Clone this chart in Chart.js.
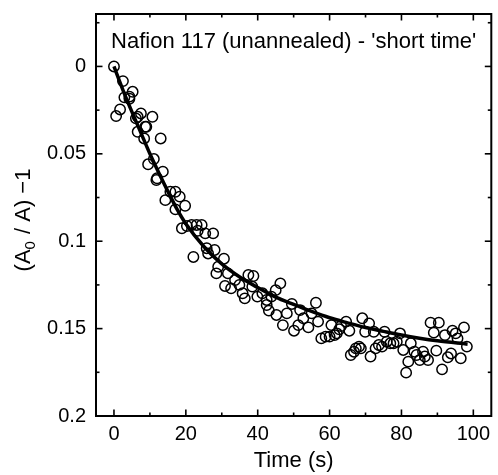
<!DOCTYPE html>
<html>
<head>
<meta charset="utf-8">
<script src="https://cdn.jsdelivr.net/npm/chart.js@4/dist/chart.umd.min.js"></script>
<style>
html,body{margin:0;padding:0;background:#fff;}
#wrap{width:498px;height:475px;}
</style>
</head>
<body>
<div id="wrap"><canvas id="c" width="498" height="475"></canvas></div>
<script>
const chartTitle = "Nafion 117 (unannealed) - 'short time'";
const xAxisTitle = "Time (s)";
// y-axis title pieces: "(A", subscript "0", " / A) −1"
const yAxisTitleParts = ["(A", "0", " / A) \u22121"];
const xTickValues = [0, 20, 40, 60, 80, 100];
const yTickValues = [0, 0.05, 0.1, 0.15, 0.2];

const timeData = [0, 2.5, 0.6, 1.7, 2.9, 4.3, 5.2, 6.6, 7.5, 6.6, 8.7, 10.7, 8.4, 13, 11.1, 9.5, 13.6, 11.8, 14.3, 15.7,
  17.1, 18.3, 17.1, 19.8, 18.9, 20.3, 21.6, 23, 24.4, 23.3, 25.4, 27.6, 25.8, 28, 26.2, 22.1, 30.6, 29, 28.5, 31.7,
  30.9, 32.6, 33.7, 34.9, 35.8, 36.4, 37.4, 38.8, 38.5, 39.9, 41.3, 42.5, 43.8, 42.5, 43.1, 45, 46.3, 45.2, 47, 48.1,
  49.5, 50.1, 51.3, 51.8, 52.7, 54.1, 55, 56.2, 56.8, 57.7, 58.9, 60, 60.5, 61.4, 62, 62.7, 63.2, 64.6, 65.5, 65.9,
  66.8, 67.3, 68.2, 68.7, 69.1, 69.9, 71, 71.4, 72.3, 72.8, 73.7, 74.6, 75.3, 75.9, 76.9, 77.8, 78.7, 79.6, 80.5, 81.3,
  81.9, 82.6, 83.6, 84.2, 85.1, 86, 86.5, 87.4, 88.1, 89, 90.4, 89.7, 91.3, 92.1, 92.9, 93.8, 94.2, 95.1, 95.6, 96.5,
  97.4, 98.2, 6.1, 9.0, 4.3, 12.0];
const signalData = [0, 0.0084, 0.0284, 0.0246, 0.0177, 0.0173, 0.0145, 0.0288, 0.0269, 0.0374, 0.0345, 0.0288, 0.0412, 0.0412, 0.053, 0.056, 0.0602, 0.065, 0.0765, 0.0717,
  0.0717, 0.0745, 0.0818, 0.0797, 0.0926, 0.0913, 0.0907, 0.0907, 0.0907, 0.094, 0.0955, 0.0955, 0.104, 0.105, 0.107, 0.109, 0.110, 0.1146, 0.1184, 0.1184,
  0.1256, 0.127, 0.1222, 0.125, 0.1298, 0.1327, 0.1193, 0.1199, 0.126, 0.1317, 0.1298, 0.1336, 0.1317, 0.1365, 0.1397, 0.128, 0.1241, 0.1422, 0.148, 0.1413,
  0.1359, 0.1512, 0.148, 0.1394, 0.1441, 0.1493, 0.1413, 0.1352, 0.146, 0.1556, 0.1546, 0.1546, 0.148, 0.1537, 0.1527, 0.1504, 0.1485, 0.146, 0.1512, 0.1651,
  0.1632, 0.1613, 0.1603, 0.1613, 0.1441, 0.1518, 0.147, 0.166, 0.1518, 0.1613, 0.1594, 0.1603, 0.1518, 0.1575, 0.1584, 0.1584, 0.1575, 0.1527, 0.1622, 0.1752,
  0.1689, 0.1584, 0.1632, 0.1651, 0.168, 0.1632, 0.166, 0.168, 0.1466, 0.1523, 0.1466, 0.1626, 0.1733, 0.1537, 0.1664, 0.1642, 0.1512, 0.1527, 0.1556, 0.167,
  0.1493, 0.1603, 0.0297, 0.0345, 0.0185, 0.064];

const fitTime = [0, 2.5, 5, 7.5, 10, 12.5, 15, 17.5, 20, 25, 30, 35, 40, 45, 50, 55, 60, 65, 70, 75, 80, 85, 90, 98.4];
const fitValue = [0, 0.0135, 0.026, 0.038, 0.0500, 0.0610, 0.0715, 0.0815, 0.0900, 0.1030, 0.1130, 0.1205, 0.1265, 0.1320, 0.1362, 0.1402, 0.1438, 0.1467, 0.1494, 0.1516, 0.1537, 0.1555, 0.1570, 0.1589];

const FONT = "'Liberation Sans', Arial, Helvetica, sans-serif";

const framePlugin = {
  id: 'frame',
  afterDatasetsDraw(chart) {
    const {ctx, chartArea: a, scales} = chart;
    const xs = scales.x, ys = scales.y;
    ctx.save();
    ctx.strokeStyle = '#000';
    ctx.lineWidth = 1.6;
    const tick = (x1, y1, x2, y2) => { ctx.beginPath(); ctx.moveTo(x1, y1); ctx.lineTo(x2, y2); ctx.stroke(); };
    for (let v = 0; v <= 100; v += 10) {
      const px = xs.getPixelForValue(v);
      const len = (v % 20 === 0) ? 6.5 : 3.5;
      tick(px, a.bottom, px, a.bottom - len);
      tick(px, a.top, px, a.top + len);
    }
    for (let k = -1; k <= 8; k++) {
      const v = k * 0.025;
      const py = ys.getPixelForValue(v);
      if (py < a.top + 1 || py > a.bottom - 1) continue;
      const len = (k % 2 === 0) ? 6.5 : 3.5;
      tick(a.left, py, a.left + len, py);
      tick(a.right, py, a.right - len, py);
    }
    ctx.lineWidth = 2;
    ctx.strokeRect(a.left, a.top, a.right - a.left, a.bottom - a.top);
    ctx.fillStyle = '#000';
    ctx.font = '22px ' + FONT;
    ctx.textAlign = 'center';
    ctx.textBaseline = 'middle';
    ctx.fillText(chartTitle, (a.left + a.right) / 2, a.top + 28);

    // y-axis title with a true subscript
    const mainFont = '22px ' + FONT, subFont = '15px ' + FONT;
    ctx.font = mainFont; const w0 = ctx.measureText(yAxisTitleParts[0]).width;
    ctx.font = subFont;  const w1 = ctx.measureText(yAxisTitleParts[1]).width;
    ctx.font = mainFont; const w2 = ctx.measureText(yAxisTitleParts[2]).width;
    const total = w0 + w1 + w2 + 1;
    ctx.translate(30, (a.top + a.bottom) / 2 + 5);
    ctx.rotate(-Math.PI / 2);
    ctx.textAlign = 'left';
    ctx.textBaseline = 'alphabetic';
    let cx = -total / 2;
    ctx.font = mainFont; ctx.fillText(yAxisTitleParts[0], cx, 0); cx += w0;
    ctx.font = subFont;  ctx.fillText(yAxisTitleParts[1], cx, 5); cx += w1 + 1;
    ctx.font = mainFont; ctx.fillText(yAxisTitleParts[2], cx, 0);
    ctx.restore();
  }
};

new Chart(document.getElementById('c'), {
  type: 'scatter',
  data: {
    datasets: [
      {
        label: 'fit',
        data: fitTime.map((t, i) => ({x: t, y: fitValue[i]})),
        showLine: true,
        borderColor: '#000',
        borderWidth: 3.5,
        pointRadius: 0,
        cubicInterpolationMode: 'monotone',
        fill: false
      },
      {
        label: 'data',
        data: timeData.map((t, i) => ({x: t, y: signalData[i]})),
        showLine: false,
        pointStyle: 'circle',
        pointRadius: 5.2,
        pointBorderWidth: 1.5,
        borderColor: '#000',
        backgroundColor: 'rgba(0,0,0,0)',
        pointBackgroundColor: 'rgba(0,0,0,0)'
      }
    ]
  },
  options: {
    responsive: false,
    animation: false,
    devicePixelRatio: 1,
    layout: {padding: {top: 14, right: 1, left: 0, bottom: 0}},
    plugins: {legend: {display: false}, tooltip: {enabled: false}, title: {display: false}},
    scales: {
      x: {
        type: 'linear',
        min: -5, max: 105,
        grid: {display: false, drawTicks: false},
        border: {display: false},
        afterBuildTicks: s => { s.ticks = xTickValues.map(v => ({value: v})); },
        afterFit: s => { s.height = 59; s.paddingLeft = 0; s.paddingRight = 0; },
        ticks: {color: '#000', padding: 6, maxRotation: 0, font: {size: 20, family: FONT}},
        title: {display: true, text: xAxisTitle, color: '#000', font: {size: 22, family: FONT}, padding: {top: 0, bottom: 1}}
      },
      y: {
        type: 'linear',
        reverse: true,
        min: -0.03, max: 0.2,
        grid: {display: false, drawTicks: false},
        border: {display: false},
        afterBuildTicks: s => { s.ticks = yTickValues.map(v => ({value: v})); },
        afterFit: s => { s.width = 96; s.paddingTop = 0; s.paddingBottom = 0; },
        ticks: {color: '#000', padding: 10, font: {size: 20, family: FONT}, callback: v => String(v)},
        title: {display: false}
      }
    }
  },
  plugins: [framePlugin]
});
</script>
</body>
</html>
